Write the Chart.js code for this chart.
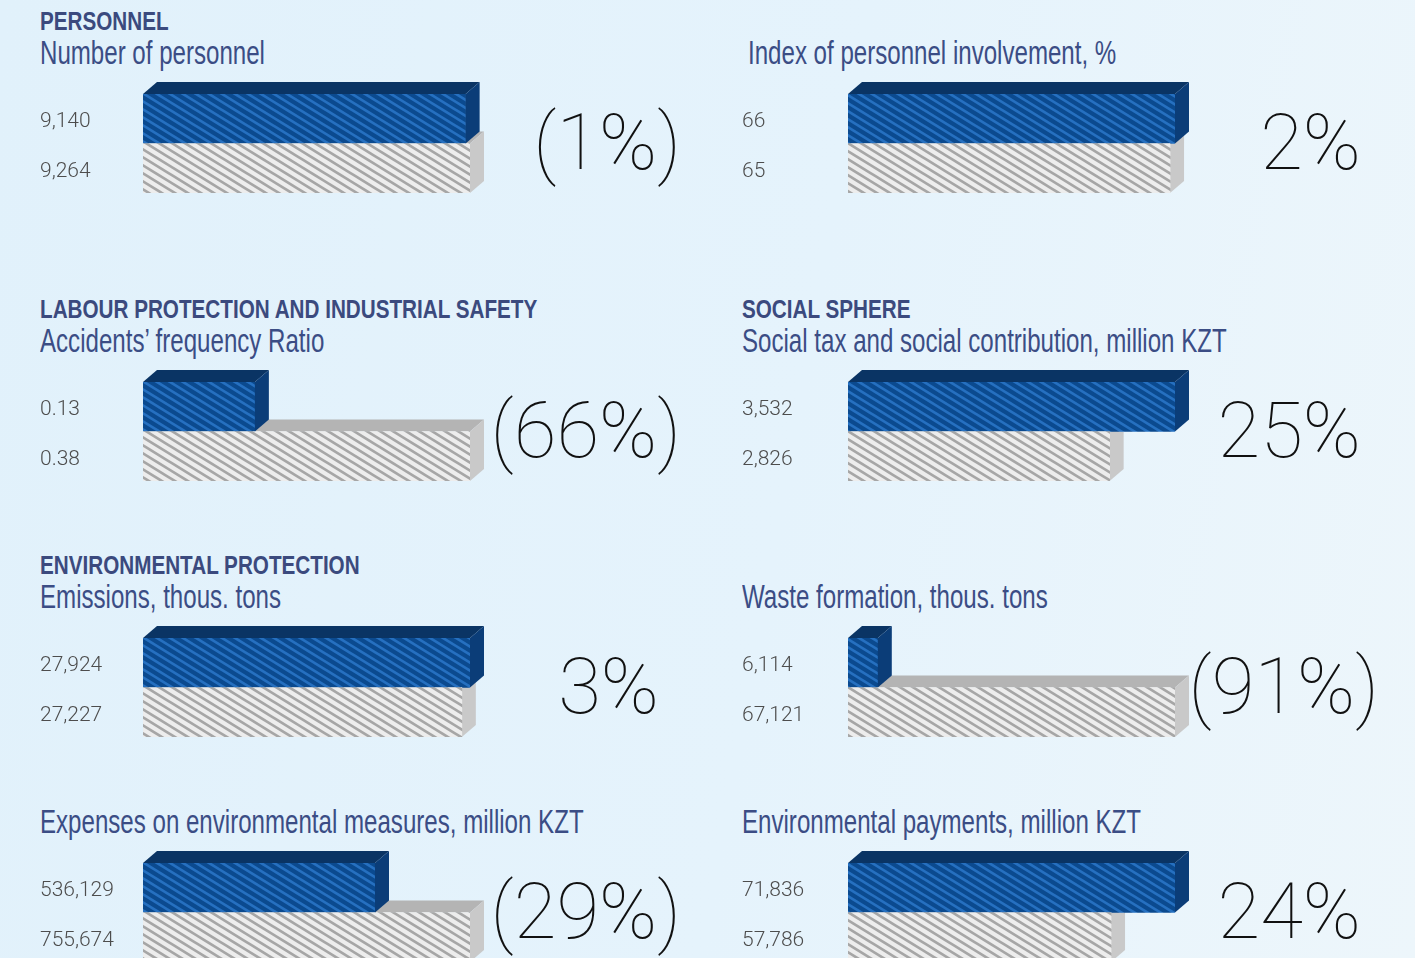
<!DOCTYPE html>
<html>
<head>
<meta charset="utf-8">
<script src="https://cdn.jsdelivr.net/npm/chart.js@4.4.1/dist/chart.umd.min.js"></script>
<style>
  html, body { margin: 0; padding: 0; }
  body {
    width: 1415px; height: 958px; overflow: hidden; position: relative;
    background: linear-gradient(100deg, #e1f1fb 0%, #e5f3fc 55%, #edf6fb 100%);
  }
  canvas { position: absolute; }
  .head, .sub { position: absolute; font-family: "Liberation Sans", Arial, sans-serif;
    white-space: nowrap; transform-origin: left top; }
  .head { font-weight: bold; font-size: 26.5px; line-height: 26.5px; color: #3b4a7e; transform: scaleX(0.78); }
  .sub { font-size: 33px; line-height: 33px; color: #3b4d85; transform: scaleX(0.73); }
  .pct { position: absolute; font-family: Roboto, Lato, sans-serif; font-weight: 100;
    font-size: 78px; line-height: 78px; color: #111; white-space: nowrap; text-align: right; }
</style>
</head>
<body>
<script>
// values: current year (blue) and previous year (gray)
const currentValues = [9140, 66, 0.13, 3532, 27924, 6114, 536129, 71836];
const previousValues = [9264, 65, 0.38, 2826, 27227, 67121, 755674, 57786];
const currentLabels = ['9,140', '66', '0.13', '3,532', '27,924', '6,114', '536,129', '71,836'];
const previousLabels = ['9,264', '65', '0.38', '2,826', '27,227', '67,121', '755,674', '57,786'];
const changeLabels = ['(1%)', '2%', '(66%)', '25%', '3%', '(91%)', '(29%)', '24%'];
const sectionTitles = ['PERSONNEL', '', 'LABOUR PROTECTION AND INDUSTRIAL SAFETY', 'SOCIAL SPHERE',
  'ENVIRONMENTAL PROTECTION', '', '', ''];
const indicatorNames = ['Number of personnel', 'Index of personnel involvement, %',
  'Accidents\u2019 frequency Ratio', 'Social tax and social contribution, million KZT',
  'Emissions, thous. tons', 'Waste formation, thous. tons',
  'Expenses on environmental measures, million KZT', 'Environmental payments, million KZT'];

// layout
const rowTops = [94, 382, 638, 863];      // top of front face of bars
const colLabelX = [40, 742];
const colBarX = [143, 848];
const textShift = [0, 6, 0, 0, 0, 0, 0, 0];
const pctRight = [681, 1361, 681, 1361, 659, 1379, 681, 1361];
const BAR_W = 327, DEPTH_X = 14, DEPTH_Y = 12, AREA_H = 99, PAD = 16;

// diagonal hatching, two lines per tile
function stripes(base, line, w, h, lw) {
  const c = document.createElement('canvas');
  c.width = w; c.height = h;
  const g = c.getContext('2d');
  g.fillStyle = base;
  g.fillRect(0, 0, w, h);
  g.strokeStyle = line;
  g.lineWidth = lw;
  for (let k = -2; k <= 2; k++) {
    const off = k * h / 2;
    g.beginPath();
    g.moveTo(-w, -h + off);
    g.lineTo(2 * w, 2 * h + off);
    g.stroke();
  }
  return g.createPattern(c, 'repeat');
}
const bluePattern = stripes('#0b4a8f', '#2670c0', 26, 16, 2.7);
const grayPattern = stripes('#ededed', '#a6a6a6', 26, 16, 2.7);

const faces = [
  { top: '#0a3464', side: '#0b3d78' },
  { top: '#b4b4b4', side: '#c9c9c9' }
];

function drawBox(ctx, bar, f) {
  const p = bar.getProps(['x', 'y', 'base', 'height'], true);
  const x0 = p.base, x1 = p.x, t = p.y - p.height / 2, b = p.y + p.height / 2;
  ctx.save();
  ctx.fillStyle = f.top;
  ctx.beginPath();
  ctx.moveTo(x0, t); ctx.lineTo(x1, t);
  ctx.lineTo(x1 + DEPTH_X, t - DEPTH_Y); ctx.lineTo(x0 + DEPTH_X, t - DEPTH_Y);
  ctx.closePath(); ctx.fill();
  ctx.fillStyle = f.side;
  ctx.beginPath();
  ctx.moveTo(x1, t); ctx.lineTo(x1 + DEPTH_X, t - DEPTH_Y);
  ctx.lineTo(x1 + DEPTH_X, b - DEPTH_Y); ctx.lineTo(x1, b);
  ctx.closePath(); ctx.fill();
  ctx.restore();
}

const boxPlugin = {
  id: 'box3d',
  beforeDatasetsDraw(chart) {
    drawBox(chart.ctx, chart.getDatasetMeta(0).data[1], faces[1]);
  },
  afterDatasetsDraw(chart) {
    drawBox(chart.ctx, chart.getDatasetMeta(0).data[0], faces[0]);
  }
};

function addText(cls, text, x, y, right) {
  const d = document.createElement('div');
  d.className = cls;
  d.textContent = text;
  d.style.top = y + 'px';
  if (right !== undefined) d.style.right = (1415 - right) + 'px';
  else d.style.left = x + 'px';
  document.body.appendChild(d);
}

currentValues.forEach((cur, i) => {
  const col = i % 2, row = Math.floor(i / 2);
  const top = rowTops[row];
  const lx = colLabelX[col], bx = colBarX[col];
  const axisW = bx - lx;

  if (sectionTitles[i]) addText('head', sectionTitles[i], lx + textShift[i], top - 86);
  addText('sub', indicatorNames[i], lx + textShift[i], top - 58);
  addText('pct', changeLabels[i], 0, top + 10, pctRight[i]);

  const cv = document.createElement('canvas');
  cv.width = axisW + BAR_W + 24;
  cv.height = AREA_H + 2 * PAD;
  cv.style.left = lx + 'px';
  cv.style.top = (top - PAD) + 'px';
  document.body.appendChild(cv);

  new Chart(cv.getContext('2d'), {
    type: 'bar',
    data: {
      labels: [currentLabels[i], previousLabels[i]],
      datasets: [{
        data: [cur, previousValues[i]],
        backgroundColor: [bluePattern, grayPattern],
        borderWidth: 0,
        barPercentage: 1,
        categoryPercentage: 1
      }]
    },
    options: {
      indexAxis: 'y',
      responsive: false,
      animation: false,
      layout: { padding: { top: PAD, bottom: PAD, right: 24, left: 0 } },
      scales: {
        x: { display: false, min: 0, max: Math.max(cur, previousValues[i]) },
        y: {
          afterFit(scale) { scale.width = axisW; },
          grid: { display: false },
          border: { display: false },
          ticks: {
            crossAlign: 'far',
            labelOffset: 3,
            color: '#4d4d4d',
            font: { family: 'Roboto, Lato, sans-serif', size: 21, weight: 300 }
          }
        }
      },
      plugins: { legend: { display: false }, tooltip: { enabled: false } }
    },
    plugins: [boxPlugin]
  });
});
</script>
</body>
</html>
